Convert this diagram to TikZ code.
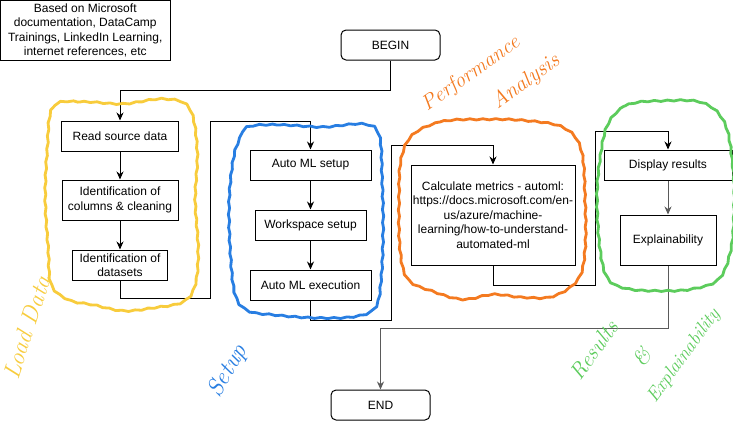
\documentclass[tikz,border=0pt]{standalone}
\usepackage{fontspec}
\newfontfamily\arialf{Liberation Sans}
\usetikzlibrary{arrows.meta,decorations.pathmorphing}
\definecolor{cyellow}{RGB}{248,204,60}
\definecolor{cblue}{RGB}{40,126,226}
\definecolor{corange}{RGB}{244,122,32}
\definecolor{cgreen}{RGB}{92,204,92}
\definecolor{cgrey}{RGB}{90,90,90}
\tikzset{
  box/.style={draw=black, line width=1pt, fill=white, inner sep=0pt, align=center,
    font=\arialf\fontsize{12}{14.5}\selectfont},
  term/.style={box, rounded corners=5pt},
  arr/.style={line width=1pt, -{Stealth[length=8pt,width=7pt]}},
  blob/.style={line width=2.8pt, line join=round, decorate,
    decoration={snake, amplitude=0.6pt, segment length=13pt}},
  hand/.style={font=\itshape\fontsize{24}{26}\selectfont, inner sep=0pt}
}
\begin{document}
\begin{tikzpicture}[x=1pt,y=-1pt]
\fill[white] (0,0) rectangle (733,429);
\useasboundingbox (0,0) rectangle (733,429);

% note
\node[box, minimum width=169.5pt, minimum height=59.5pt] (note) at (85.25,30.25)
  {Based on Microsoft\\documentation, DataCamp\\Trainings, LinkedIn Learning,\\internet references, etc};

% terminals
\node[term, minimum width=99pt, minimum height=30pt] (begin) at (390.5,45) {BEGIN};
\node[term, minimum width=99pt, minimum height=30pt] (end) at (380.5,405) {END};

% column 1
\node[box, minimum width=117pt, minimum height=30pt] (read) at (120,136) {Read source data};
\node[box, minimum width=116pt, minimum height=40pt] (ident) at (120,200) {Identification of\\columns \& cleaning};
\node[box, minimum width=95pt, minimum height=30pt] (datasets) at (120,265) {Identification of\\datasets};

% column 2
\node[box, minimum width=121pt, minimum height=30pt] (automl) at (310.5,165) {Auto ML setup};
\node[box, minimum width=111pt, minimum height=30pt] (workspace) at (310.5,225) {Workspace setup};
\node[box, minimum width=121pt, minimum height=30pt] (exec) at (310.5,285) {Auto ML execution};

% column 3
\node[box, minimum width=164pt, minimum height=100pt] (calc) at (493,215)
  {Calculate metrics - automl:\\https://docs.microsoft.com/en-\\us/azure/machine-\\learning/how-to-understand-\\automated-ml};

% column 4
\node[box, minimum width=128pt, minimum height=30pt] (display) at (668,165) {Display results};
\node[box, minimum width=96pt, minimum height=50pt] (explain) at (668,240) {Explainability};

% connectors
\draw[arr] (begin.south) -- (390.5,90) -| (read.north);
\draw[arr] (read) -- (ident);
\draw[arr] (ident) -- (datasets);
\draw[arr] (datasets.south) -- (120,298) -- (210,298) -- (210,121) -| (automl.north);
\draw[arr] (automl) -- (workspace);
\draw[arr] (workspace) -- (exec);
\draw[arr] (exec.south) -- (310.5,320) -- (391,320) -- (391,145) -| (calc.north);
\draw[arr] (calc.south) -- (493,285) -- (595,285) -- (595,131) -| (display.north);
\draw[arr, draw=cgrey] (display) -- (explain);
\draw[arr, draw=cgrey] (explain.south) -- (668,328) -| (end.north);

% hand drawn outlines
\draw[blob, cyellow] plot[smooth cycle, tension=0.6] coordinates {
 (50,107) (80,102) (120,104) (160,99) (186,108) (194,150) (192,200) (195,250)
 (192,285) (180,302) (150,308) (120,311) (90,305) (65,300) (48,285) (45,250) (42,200) (44,150)};
\draw[blob, cblue] plot[smooth cycle, tension=0.6] coordinates {
 (245,127) (280,125) (320,127) (360,124) (376,135) (379,180) (380,230) (378,280)
 (372,308) (350,317) (310,318) (270,315) (245,311) (232,295) (227,250) (226,200) (230,160) (236,140)};
\draw[blob, corange] plot[smooth cycle, tension=0.6] coordinates {
 (410,135) (440,122) (480,120) (520,121) (560,128) (578,150) (582,200) (582,250)
 (575,280) (550,297) (520,298) (490,295) (460,300) (430,292) (405,280) (397,250) (396,200) (398,160)};
\draw[blob, cgreen] plot[smooth cycle, tension=0.6] coordinates {
 (605,125) (625,106) (660,102) (700,104) (722,125) (730,170) (731,210) (728,250)
 (716,280) (690,290) (660,292) (625,290) (605,280) (597,250) (594,200) (597,160)};

% handwritten labels
\node[hand, text=cyellow, rotate=72] (tload) at (27,327) {Load Data};
\node[hand, text=cblue, rotate=60] (tsetup) at (228,371) {Setup};
\node[hand, text=corange, rotate=35, font=\itshape\fontsize{21}{23}\selectfont] (tperf) at (471,74) {Performance};
\node[hand, text=corange, rotate=36, font=\itshape\fontsize{22}{24}\selectfont] (tanal) at (526,82) {Analysis};
\node[hand, text=cgreen, rotate=54, font=\itshape\fontsize{22}{24}\selectfont] (tres) at (594,350) {Results};
\node[hand, text=cgreen, rotate=54, font=\itshape\fontsize{22}{24}\selectfont] (tamp) at (642,357) {\&};
\node[hand, text=cgreen, rotate=54, font=\itshape\fontsize{19}{21}\selectfont] (texpl) at (684,356) {Explainability};
\end{tikzpicture}
\end{document}
